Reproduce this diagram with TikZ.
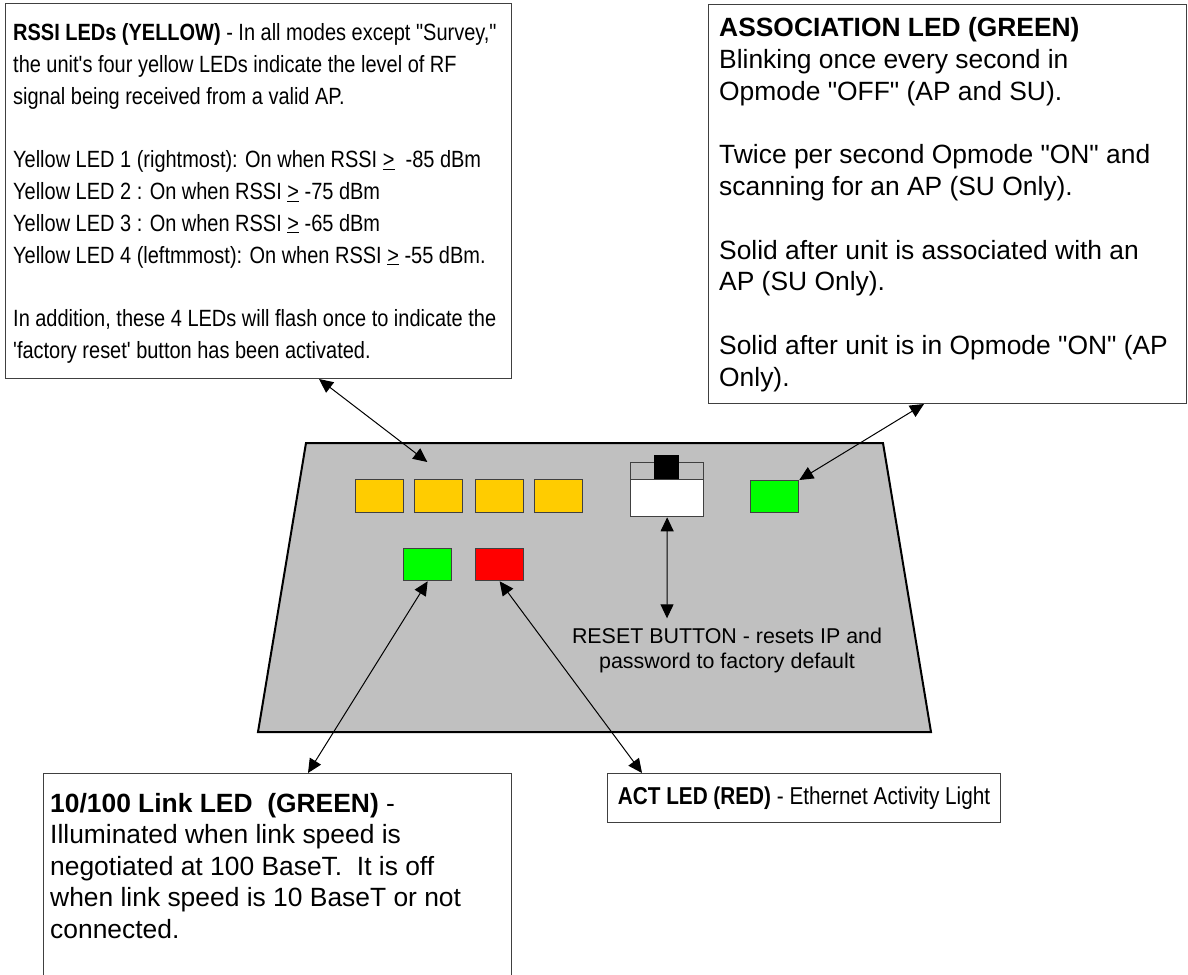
\documentclass[tikz,border=0pt]{standalone}
\usepackage{fontspec}
\newfontfamily\arial{Liberation Sans}
\newfontfamily\arialn{Liberation Sans}[FakeStretch=0.85]
\usetikzlibrary{arrows.meta}
\definecolor{panelgray}{HTML}{C0C0C0}
\definecolor{ledyellow}{HTML}{FFCC00}
\definecolor{ledgreen}{HTML}{00FF00}
\definecolor{ledred}{HTML}{FF0000}
\definecolor{edgegray}{HTML}{404040}
\begin{document}
\begin{tikzpicture}[x=1pt,y=-1pt,
  tbox/.style={draw=edgegray, line width=1pt, fill=white, inner sep=0pt, anchor=north west},
  led/.style={draw=edgegray, line width=1.3pt, inner sep=0pt, anchor=north west, minimum width=48pt, minimum height=33pt},
  boxtext/.style={font={\arial\fontsize{26.4}{31.8}\selectfont}, align=left, inner sep=0pt, anchor=north west},
  conn/.style={draw=black, line width=1pt, {Triangle[length=14pt,width=13pt]}-{Triangle[length=14pt,width=13pt]}}
]
\useasboundingbox (0,0) rectangle (1188,974);
\clip (0,0) rectangle (1188,974);
\fill[white] (0,0) rectangle (1188,974);

% panel
\coordinate (p1) at (306,443);
\coordinate (p2) at (883,443);
\coordinate (p3) at (931,732);
\coordinate (p4) at (258,732);
\draw[fill=panelgray, line width=2pt, line join=miter] (p1) -- (p2) -- (p3) -- (p4) -- cycle;

% text boxes
\node[tbox, minimum width=506pt, minimum height=375pt] (rssibox) at (5,3) {};
\node[tbox, minimum width=478pt, minimum height=399pt] (assocbox) at (708,4) {};
\node[tbox, minimum width=468pt, minimum height=215pt] (linkbox) at (43,773) {};
\node[tbox, minimum width=393pt, minimum height=49pt,
      font={\arialn\fontsize{24.4}{28}\selectfont}] (actbox) at (607,773)
      {\textbf{ACT LED (RED)} - Ethernet Activity Light};

\node[boxtext, font={\arialn\fontsize{23.5}{31.8}\selectfont}] (rssitext) at (13,23.2)
{\textbf{RSSI LEDs (YELLOW)} - In all modes except "Survey,"\\
the unit's four yellow LEDs indicate the level of RF\\
signal being received from a valid AP.\\[31.8pt]
Yellow LED 1 (rightmost): On when RSSI \underline{>}\ \ -85 dBm\\
Yellow LED 2 : On when RSSI \underline{>} -75 dBm\\
Yellow LED 3 : On when RSSI \underline{>} -65 dBm\\
Yellow LED 4 (leftmmost): On when RSSI \underline{>} -55 dBm.\\[31.8pt]
In addition, these 4 LEDs will flash once to indicate the\\
'factory reset' button has been activated.};

\node[boxtext] (assoctext) at (719,17.2)
{\textbf{ASSOCIATION LED (GREEN)}\\
Blinking once every second in\\
Opmode "OFF" (AP and SU).\\[31.8pt]
Twice per second Opmode "ON" and\\
scanning for an AP (SU Only).\\[31.8pt]
Solid after unit is associated with an\\
AP (SU Only).\\[31.8pt]
Solid after unit is in Opmode "ON" (AP\\
Only).};

\node[boxtext, font={\arial\fontsize{26.4}{31.5}\selectfont}] (linktext) at (50,793)
{\textbf{10/100 Link LED\ \ (GREEN)} -\\
Illuminated when link speed is\\
negotiated at 100 BaseT.\ \ It is off\\
when link speed is 10 BaseT or not\\
connected.};

% LEDs
\node[led, fill=ledyellow] (y4) at (355,479) {};
\node[led, fill=ledyellow] (y3) at (414,479) {};
\node[led, fill=ledyellow] (y2) at (475,479) {};
\node[led, fill=ledyellow] (y1) at (534,479) {};
\node[led, fill=ledgreen, minimum height=32pt] (linkled) at (403,548) {};
\node[led, fill=ledred, minimum height=32pt] (actled) at (475,548) {};
\node[led, fill=ledgreen, minimum height=32pt] (assocled) at (750,480) {};

% reset button
\node[draw=edgegray, line width=1.3pt, inner sep=0pt, anchor=north west, minimum width=73pt, minimum height=17pt] (resettop) at (630,462) {};
\node[draw=edgegray, fill=white, line width=1.3pt, inner sep=0pt, anchor=north west, minimum width=73pt, minimum height=37pt] (resetbtn) at (630,479) {};
\node[fill=black, inner sep=0pt, anchor=north west, minimum width=25pt, minimum height=24pt] (resetcap) at (654,455) {};

\node[font={\arial\fontsize{21.4}{25}\selectfont}, align=center, inner sep=0pt, anchor=north] (resettext) at (727,627.3)
{RESET BUTTON - resets IP and\\password to factory default};

% connectors
\draw[conn] ([xshift=314pt]rssibox.south west) -- ([xshift=-36pt,yshift=17pt]y3.north east);
\draw[conn] ([xshift=216pt]assocbox.south west) -- (assocled.north east);
\draw[conn] (resetbtn.south) -- ([xshift=-60pt,yshift=9pt]resettext.north);
\draw[conn] (linkled.south) -- ([xshift=265pt]linkbox.north west);
\draw[conn] (actled.south) -- ([xshift=35pt]actbox.north west);
\end{tikzpicture}
\end{document}
